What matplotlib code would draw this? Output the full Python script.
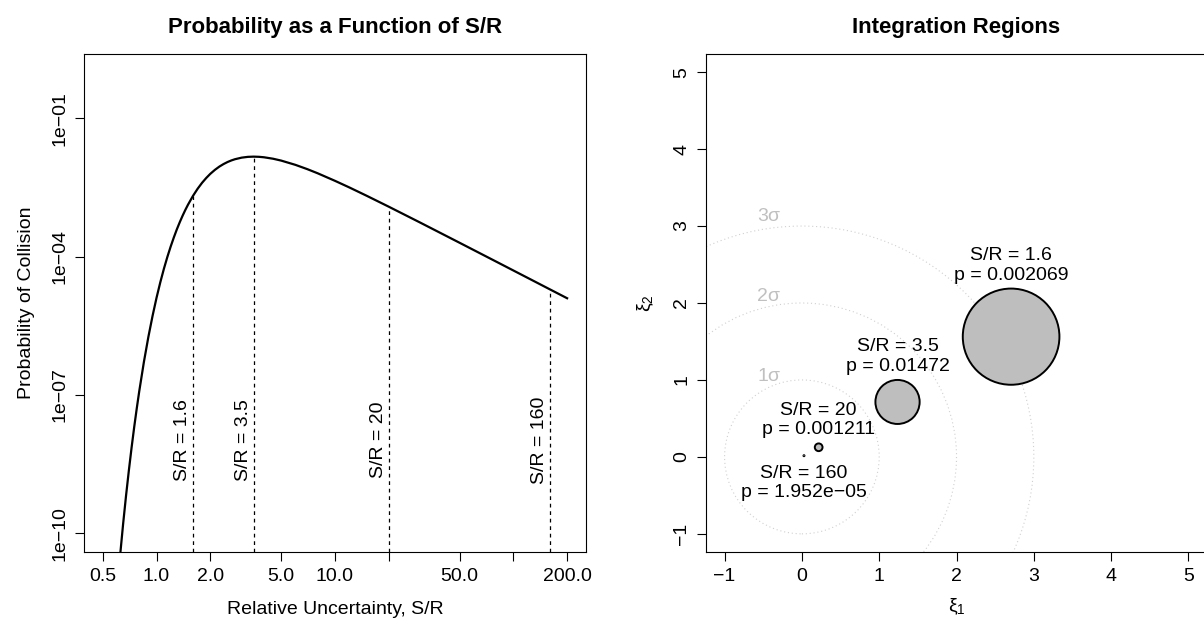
import matplotlib
matplotlib.use("Agg")
import matplotlib.pyplot as plt
from matplotlib.patches import Circle
import matplotlib.transforms as mtransforms

plt.rcParams['font.family'] = ['Liberation Sans', 'DejaVu Sans']
plt.rcParams['mathtext.fontset'] = 'custom'
plt.rcParams['mathtext.rm'] = 'Liberation Sans'
plt.rcParams['mathtext.it'] = 'Liberation Sans:italic'

# probability of collision vs relative uncertainty S/R
sr = [0.5, 0.6, 0.62, 0.65, 0.675, 0.7, 0.725, 0.75, 0.775, 0.8, 0.85, 0.9,
      0.95, 1.0, 1.05, 1.1, 1.15, 1.2, 1.25, 1.3, 1.35, 1.4, 1.45, 1.5, 1.6,
      1.7, 1.8, 1.9, 2.0, 2.125, 2.25, 2.375, 2.5, 2.625, 2.75, 3.0, 3.25, 3.5,
      3.75, 4.0, 4.5, 5.0, 6.0, 7.0, 8.0, 10.0, 12.0, 15.0, 20.0, 30.0, 50.0,
      80.0, 120.0, 160.0, 200.0]
prob = [2.7e-16, 5.62e-12, 2.38e-11, 1.62e-10, 6.63e-10, 2.34e-09, 7.29e-09,
        2.04e-08, 5.15e-08, 1.20e-07, 5.25e-07, 1.81e-06, 5.18e-06, 1.28e-05,
        2.78e-05, 5.46e-05, 9.84e-05, 1.65e-04, 2.60e-04, 3.91e-04, 5.59e-04,
        7.71e-04, 1.028e-03, 1.330e-03, 2.069e-03, 2.966e-03, 3.99e-03,
        5.08e-03, 6.22e-03, 7.62e-03, 8.96e-03, 1.017e-02, 1.125e-02, 1.217e-02,
        1.293e-02, 1.400e-02, 1.456e-02, 1.472e-02, 1.459e-02, 1.426e-02,
        1.326e-02, 1.207e-02, 9.77e-03, 7.88e-03, 6.41e-03, 4.40e-03, 3.18e-03,
        2.10e-03, 1.211e-03, 5.48e-04, 1.99e-04, 7.80e-05, 3.47e-05, 1.952e-05,
        1.25e-05]

# highlighted cases
case_sr = [1.6, 3.5, 20, 160]
case_p = [0.002069, 0.01472, 0.001211, 1.952e-05]
case_txt = ["1.6", "3.5", "20", "160"]
case_ptxt = ["0.002069", "0.01472", "0.001211", "1.952e\u221205"]

# integration regions in the normalised plane
circ_x = [2.706, 1.237, 0.217, 0.027]
circ_y = [1.5625, 0.714, 0.125, 0.0156]
circ_r = [0.625, 0.286, 0.05, 0.00625]

sigmas = [1, 2, 3]

xticks = [0.5, 1, 2, 5, 10, 20, 50, 100, 200]
xticklabels = ["0.5", "1.0", "2.0", "5.0", "10.0", "", "50.0", "", "200.0"]
yticks = [1e-1, 1e-4, 1e-7, 1e-10]
yticklabels = ["1e\u221201", "1e\u221204", "1e\u221207", "1e\u221210"]

fs = 14

fig = plt.figure(figsize=(12.04, 6.25), dpi=100)
ax0 = fig.add_axes([0.0700, 0.1173, 0.4164, 0.7963])
ax1 = fig.add_axes([0.5864, 0.1163, 0.4161, 0.7978])

for ax in (ax0, ax1):
    for s in ax.spines.values():
        s.set_linewidth(0.8)
    ax.tick_params(direction='out', length=6.5, width=0.8, labelsize=fs, pad=5)

# ---- left panel
ax0.plot(sr, prob, color='black', lw=1.6)
ax0.set_xscale('log')
ax0.set_yscale('log')
ax0.set_xlim(0.3936, 254)
ax0.set_ylim(10 ** -10.4, 10 ** 0.394)
ax0.set_xticks(xticks)
ax0.set_xticklabels(xticklabels)
ax0.set_yticks(yticks)
ax0.set_yticklabels(yticklabels, rotation=90, va='center')
ax0.minorticks_off()

ybot = 10 ** -10.4
for k, p, t in zip(case_sr, case_p, case_txt):
    ax0.plot([k, k], [ybot, p], color='black', lw=0.9, ls=(0, (3, 3)))
    off = mtransforms.offset_copy(ax0.transData, fig=fig, x=-2, y=0, units='dots')
    ax0.text(k, 1.05e-8, "S/R = " + t, rotation=90, ha='right', va='center',
             fontsize=fs, transform=off)

ax0.set_title("Probability as a Function of S/R", fontsize=16, fontweight='bold', pad=15)
ax0.set_xlabel("Relative Uncertainty, S/R", fontsize=fs, labelpad=12)
ax0.set_ylabel("Probability of Collision", fontsize=fs, labelpad=12)

# ---- right panel
ax1.set_xlim(-1.24, 5.24)
ax1.set_ylim(-1.24, 5.24)
ax1.set_xticks(range(-1, 6))
ax1.set_yticks(range(-1, 6))
ax1.set_xticklabels(["\u22121", "0", "1", "2", "3", "4", "5"])
ax1.set_yticklabels(["\u22121", "0", "1", "2", "3", "4", "5"], rotation=90, va='center')

for s in sigmas:
    ax1.add_patch(Circle((0, 0), s, fill=False, ec='#D0D0D0', lw=0.8, ls=(0, (1, 2.5))))
for s, ly in zip(sigmas, [1.05, 2.08, 3.12]):
    ax1.text(-0.43, ly, f"{s}\u03c3", color='#C0C0C0', fontsize=fs, ha='center', va='center')

for cx, cy, r in zip(circ_x, circ_y, circ_r):
    ax1.add_patch(Circle((cx, cy), r, fc='#BEBEBE', ec='black', lw=1.4, zorder=3))

for i in range(4):
    label = "S/R = " + case_txt[i] + "\np = " + case_ptxt[i]
    if i < 3:
        ax1.annotate(label, (circ_x[i], circ_y[i] + circ_r[i]), xytext=(0, 3.6),
                     textcoords='offset points', ha='center', va='bottom', fontsize=fs)
    else:
        ax1.annotate(label, (circ_x[i], circ_y[i] - circ_r[i]), xytext=(0, -6),
                     textcoords='offset points', ha='center', va='top', fontsize=fs)

ax1.set_title("Integration Regions", fontsize=16, fontweight='bold', pad=15)
ax1.set_xlabel(r"$\mathregular{\xi_1}$", fontsize=fs, labelpad=8)
ax1.set_ylabel(r"$\mathregular{\xi_2}$", fontsize=fs, labelpad=12)

fig.savefig("out.png", dpi=100)
